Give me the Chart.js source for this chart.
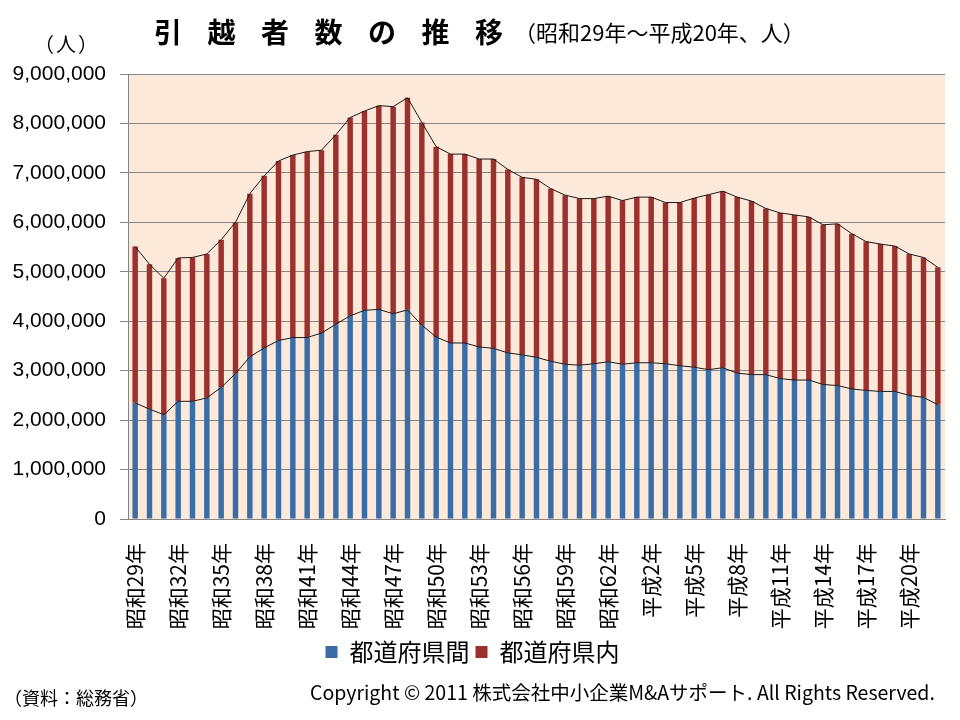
<!DOCTYPE html>
<html lang="ja">
<head>
<meta charset="utf-8">
<title>引越者数の推移</title>
<script src="https://cdn.jsdelivr.net/npm/chart.js@4.4.1/dist/chart.umd.min.js"></script>
<style>
  html, body { margin: 0; padding: 0; background: #fff; }
  #wrap { position: relative; width: 960px; height: 720px; font-family: "Noto Sans CJK JP", sans-serif; color: #000; }
  #wrap canvas { position: absolute; left: 0; top: 0; }
  .txt { position: absolute; white-space: nowrap; line-height: 1; }
  #title { left: 154px; top: 17px; font-size: 28px; font-weight: bold; letter-spacing: 25.5px; }
  #sub { left: 514px; top: 20px; font-size: 22px; }
  #unit { left: 34px; top: 34px; font-size: 20px; letter-spacing: 2px; }
  #source { left: 4px; top: 688px; font-size: 18px; }
  #copy { left: 310px; top: 682px; font-size: 19.5px; }
</style>
</head>
<body>
<div id="wrap">
  <canvas id="movers" width="960" height="720"></canvas>
  <div class="txt" id="title">引越者数の推移</div>
  <div class="txt" id="sub">（昭和29年～平成20年、人）</div>
  <div class="txt" id="unit">（人）</div>
  <div class="txt" id="source">（資料：総務省）</div>
  <div class="txt" id="copy">Copyright © 2011 株式会社中小企業M&amp;Aサポート. All Rights Reserved.</div>
</div>
<script>
// 年次ラベル (昭和29年 = 1954 〜 平成22年 = 2010)
const years = [
  '昭和29年', '昭和30年', '昭和31年', '昭和32年', '昭和33年', '昭和34年', '昭和35年',
  '昭和36年', '昭和37年', '昭和38年', '昭和39年', '昭和40年', '昭和41年', '昭和42年',
  '昭和43年', '昭和44年', '昭和45年', '昭和46年', '昭和47年', '昭和48年', '昭和49年',
  '昭和50年', '昭和51年', '昭和52年', '昭和53年', '昭和54年', '昭和55年', '昭和56年',
  '昭和57年', '昭和58年', '昭和59年', '昭和60年', '昭和61年', '昭和62年', '昭和63年',
  '平成元年', '平成2年', '平成3年', '平成4年', '平成5年', '平成6年', '平成7年',
  '平成8年', '平成9年', '平成10年', '平成11年', '平成12年', '平成13年', '平成14年',
  '平成15年', '平成16年', '平成17年', '平成18年', '平成19年', '平成20年', '平成21年',
  '平成22年'
];

// 総数 (人)
const totalMovers = [
  5510000, 5150000, 4870000, 5280000, 5290000, 5360000, 5650000,
  6000000, 6580000, 6940000, 7240000, 7360000, 7430000, 7460000,
  7770000, 8120000, 8250000, 8360000, 8340000, 8520000, 8020000,
  7530000, 7380000, 7380000, 7280000, 7280000, 7070000, 6910000,
  6870000, 6680000, 6550000, 6480000, 6480000, 6530000, 6440000,
  6510000, 6510000, 6400000, 6400000, 6490000, 6560000, 6630000,
  6510000, 6430000, 6280000, 6190000, 6150000, 6110000, 5950000,
  5970000, 5770000, 5610000, 5560000, 5520000, 5360000, 5290000,
  5090000
];

// 都道府県間移動者数 (人)
const interPref = [
  2350000, 2220000, 2110000, 2380000, 2380000, 2450000, 2660000,
  2940000, 3280000, 3460000, 3610000, 3670000, 3670000, 3760000,
  3940000, 4110000, 4220000, 4240000, 4150000, 4230000, 3920000,
  3680000, 3560000, 3560000, 3480000, 3450000, 3360000, 3320000,
  3270000, 3190000, 3130000, 3110000, 3140000, 3180000, 3130000,
  3160000, 3160000, 3140000, 3100000, 3070000, 3020000, 3060000,
  2950000, 2920000, 2920000, 2840000, 2810000, 2810000, 2720000,
  2700000, 2630000, 2600000, 2580000, 2580000, 2500000, 2460000,
  2310000
];

// 都道府県内移動者数 = 総数 - 都道府県間
const intraPref = totalMovers.map((v, i) => v - interPref[i]);

const plotBg = {
  id: 'plotBg',
  beforeDraw(chart) {
    const { ctx, chartArea: a } = chart;
    ctx.save();
    ctx.fillStyle = '#FDE9DA';
    ctx.fillRect(a.left, a.top, a.right - a.left, a.bottom - a.top);
    ctx.restore();
  }
};

const ctx = document.getElementById('movers').getContext('2d');
const moversChart = new Chart(ctx, {
  type: 'bar',
  data: {
    labels: years,
    datasets: [
      {
        type: 'line',
        label: 'total',
        data: totalMovers,
        stack: 'lineTotal',
        borderColor: '#1a1a1a',
        borderWidth: 1,
        pointRadius: 0,
        tension: 0,
        order: 0
      },
      {
        type: 'line',
        label: 'inter',
        data: interPref,
        stack: 'lineInter',
        borderColor: '#1a1a1a',
        borderWidth: 1,
        pointRadius: 0,
        tension: 0,
        order: 0
      },
      {
        label: '都道府県間',
        data: interPref,
        stack: 'bars',
        backgroundColor: '#3A6DA8',
        barPercentage: 0.38,
        categoryPercentage: 1,
        order: 1
      },
      {
        label: '都道府県内',
        data: intraPref,
        stack: 'bars',
        backgroundColor: '#9B302D',
        barPercentage: 0.38,
        categoryPercentage: 1,
        order: 1
      }
    ]
  },
  options: {
    responsive: false,
    animation: false,
    layout: {
      padding: { top: 74, right: 15, bottom: 46, left: 0 }
    },
    plugins: {
      tooltip: { enabled: false },
      legend: {
        position: 'bottom',
        labels: {
          filter: item => item.text.startsWith('都道府県'),
          boxWidth: 12,
          boxHeight: 12,
          padding: 6,
          color: '#000',
          font: { family: '"Noto Sans CJK JP"', size: 24 }
        }
      }
    },
    scales: {
      x: {
        stacked: true,
        grid: { display: false },
        border: { color: '#868686' },
        ticks: {
          autoSkip: false,
          minRotation: 90,
          maxRotation: 90,
          padding: 16,
          color: '#000',
          font: { family: '"Noto Sans CJK JP"', size: 21 },
          callback: (val, idx) => idx % 3 === 0 ? years[idx] : ''
        },
        afterFit(scale) {
          scale.height = 115;
          scale.paddingLeft = 0;
          scale.paddingRight = 0;
        }
      },
      y: {
        stacked: true,
        min: 0,
        max: 9000000,
        grid: { color: '#868686', tickLength: 8 },
        border: { color: '#868686' },
        ticks: {
          stepSize: 1000000,
          padding: 14,
          color: '#000',
          font: { family: '"Liberation Sans"', size: 21 },
          callback: v => v.toLocaleString('en-US')
        },
        afterFit(scale) { scale.width = 128; }
      }
    }
  },
  plugins: [plotBg]
});
</script>
</body>
</html>
